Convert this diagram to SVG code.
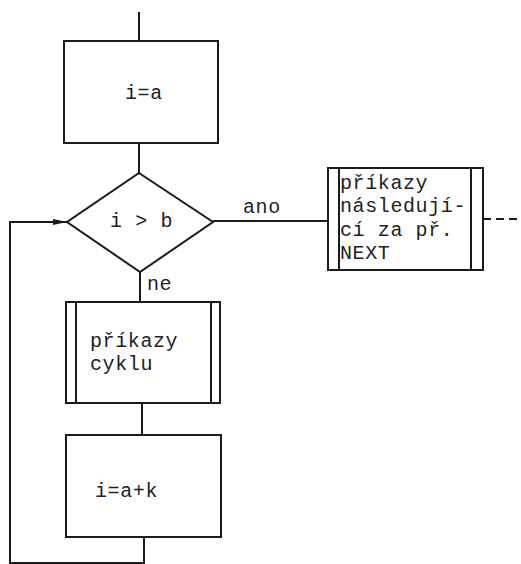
<svg xmlns="http://www.w3.org/2000/svg" width="521" height="564" viewBox="0 0 521 564">
<style>
.s{fill:none;stroke:#1a1a1a;stroke-width:2}
.t{font-family:"Liberation Mono","DejaVu Sans Mono",monospace;font-size:20px;fill:#222;letter-spacing:0.6px}
</style>
<defs>
<marker id="ar" markerWidth="14" markerHeight="8" refX="14" refY="4" orient="auto" markerUnits="userSpaceOnUse">
<path d="M0,1 L14,4 L0,7 Z" fill="#1a1a1a"/>
</marker>
</defs>
<rect width="521" height="564" fill="#fff"/>
<g id="connectors">
<path class="s" d="M139,12 V41"/>
<path class="s" d="M139,143 V173"/>
<path class="s" d="M140,272 V302"/>
<path class="s" d="M142,403 V435"/>
<path class="s" d="M144,537 V563 H10 V222 H67" marker-end="url(#ar)"/>
<path class="s" d="M213,221 H328"/>
<path class="s" d="M483,219 H521" stroke-dasharray="8,5"/>
<text class="t" x="147" y="290">ne</text>
<text class="t" x="243" y="213">ano</text>
</g>
<g id="init">
<rect class="s" x="64" y="41" width="154" height="102"/>
<text class="t" x="125" y="99">i=a</text>
</g>
<g id="cond">
<path class="s" d="M139,173 L213,222 L140,272 L67,222 Z"/>
<text class="t" x="110" y="227">i &gt; b</text>
</g>
<g id="body">
<rect class="s" x="66" y="302" width="154" height="101"/>
<path class="s" d="M76,302 V403 M211,302 V403"/>
<text class="t" x="90" y="347">příkazy</text>
<text class="t" x="90" y="370">cyklu</text>
</g>
<g id="incr">
<rect class="s" x="66" y="435" width="155" height="102"/>
<text class="t" x="95" y="497">i=a+k</text>
</g>
<g id="next">
<rect class="s" x="328" y="168" width="155" height="102"/>
<path class="s" d="M339,168 V270 M471,168 V270"/>
<text class="t" x="340" y="189">příkazy</text>
<text class="t" x="340" y="212">následují-</text>
<text class="t" x="340" y="236">cí za př.</text>
<text class="t" x="340" y="259">NEXT</text>
</g>
</svg>
